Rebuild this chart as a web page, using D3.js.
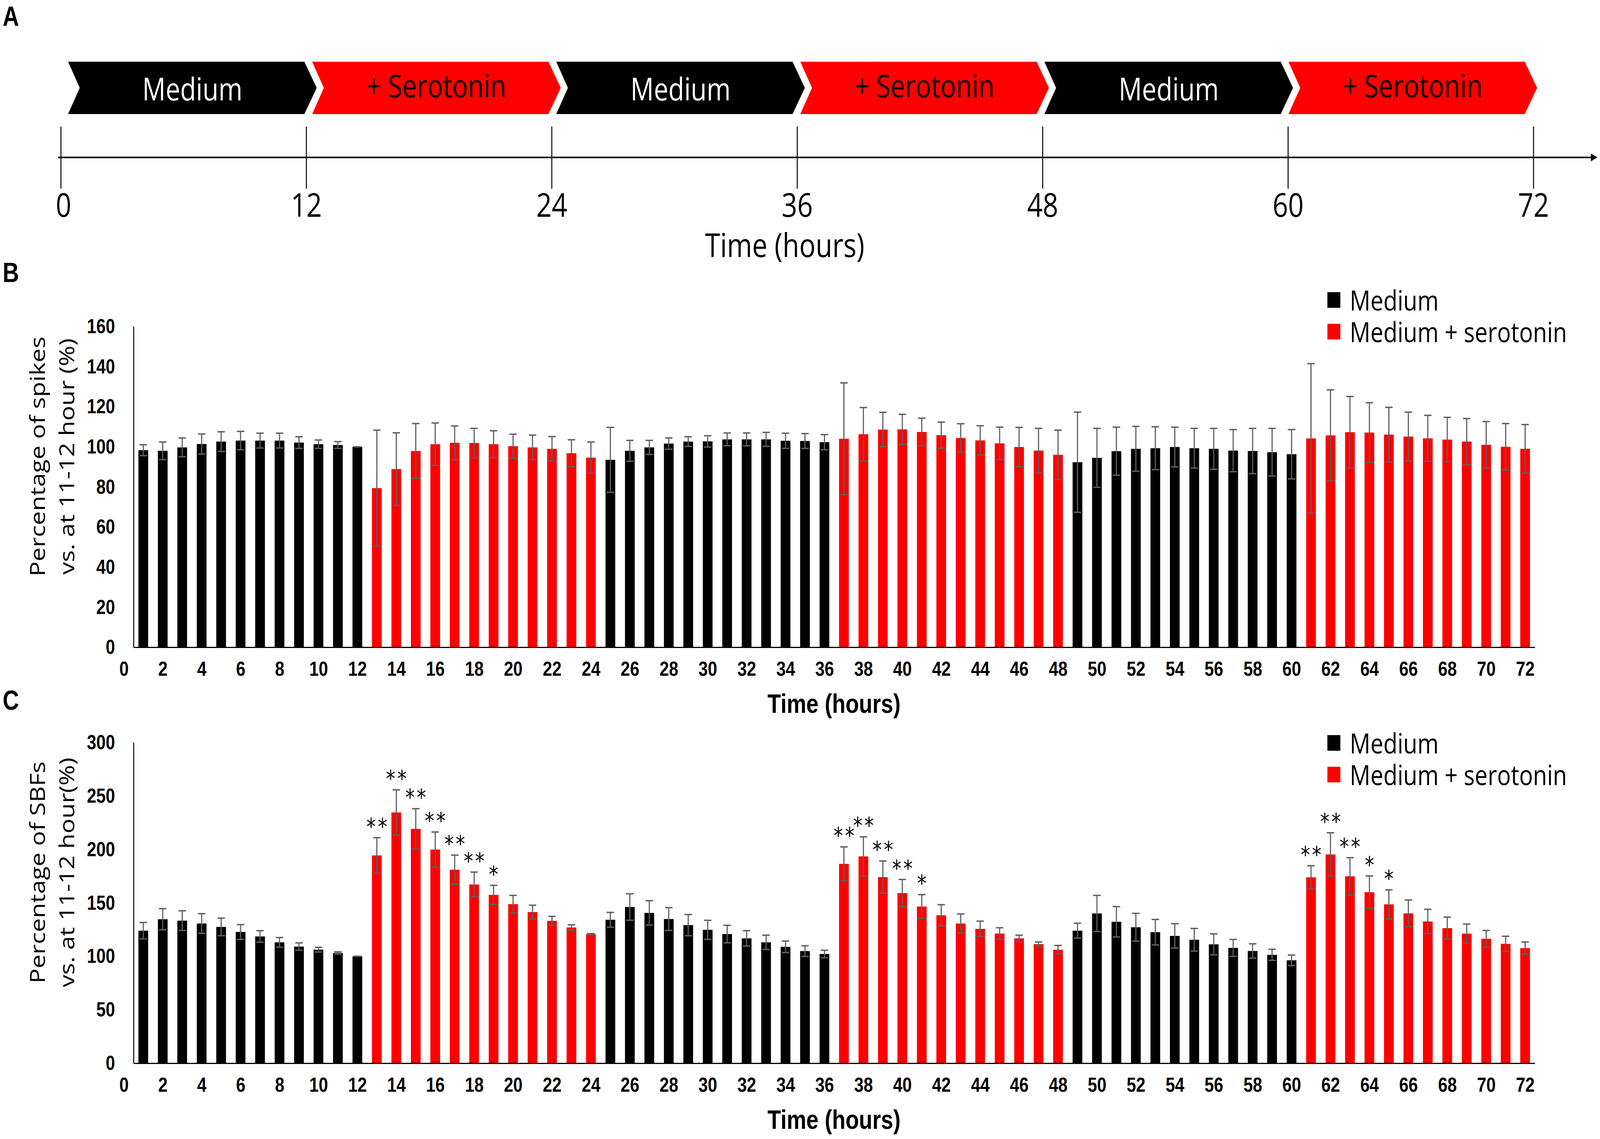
<!DOCTYPE html>
<html>
<head>
<meta charset="utf-8">
<script src="https://cdn.jsdelivr.net/npm/d3@7"></script>
<style>
  html, body { margin: 0; padding: 0; width: 100%; height: 100%; overflow: hidden; background: #fff; }
  svg { display: block; width: 100vw; height: 100vh; }
</style>
</head>
<body>
<svg id="fig" viewBox="0 0 4936 2916" preserveAspectRatio="none"></svg>
<script>
// ---- data ----
const hours = d3.range(1, 73);   // hour bins 1..72
const xTickLabels = d3.range(0, 73, 2);
const timeTicks = [0, 12, 24, 36, 48, 60, 72];

const phaseNames = ["Medium", "+ Serotonin", "Medium", "+ Serotonin", "Medium", "+ Serotonin"];
const phaseStart = [0, 12, 24, 36, 48, 60];
const phaseEnd = [12, 24, 36, 48, 60, 72];

// panel B: spikes, % of 11-12 h
const spikes = [98.3, 98.0, 99.7, 101.4, 102.6, 103.1, 103.1, 103.1, 102.1, 101.3, 100.9, 100.0,
  79.4, 88.9, 97.9, 101.3, 102.0, 101.9, 101.3, 100.3, 99.7, 99.0, 96.8, 94.6,
  93.5, 98.0, 99.7, 101.6, 102.6, 102.7, 103.7, 103.7, 103.7, 103.0, 102.9, 102.3,
  104.0, 106.3, 108.6, 108.7, 107.4, 105.8, 104.4, 103.2, 101.7, 99.9, 98.1, 96.0,
  92.3, 94.5, 97.8, 99.0, 99.3, 99.9, 99.3, 99.0, 98.1, 97.9, 97.3, 96.3,
  104.2, 105.7, 107.3, 107.1, 106.1, 105.1, 104.2, 103.6, 102.6, 101.0, 100.0, 99.0];
const spikesErr = [2.7, 4.4, 4.7, 5.0, 4.9, 4.6, 3.7, 3.7, 2.9, 2.1, 1.7, 0,
  28.9, 18.1, 13.7, 10.6, 8.4, 7.3, 6.7, 6.0, 6.1, 6.1, 6.7, 7.8,
  16.2, 5.2, 3.5, 2.8, 2.4, 2.8, 3.2, 3.2, 3.5, 3.8, 3.7, 3.8,
  27.9, 13.3, 8.6, 7.5, 6.9, 6.5, 7.1, 7.3, 8.1, 9.8, 11.1, 12.3,
  25.0, 14.7, 12.0, 11.2, 10.7, 9.9, 9.9, 10.2, 10.5, 11.3, 11.9, 12.3,
  37.3, 22.7, 17.8, 14.9, 13.6, 12.2, 11.5, 11.1, 11.5, 11.6, 11.6, 12.1];

// panel C: SBFs, % of 11-12 h
const sbf = [124.0, 134.7, 133.4, 130.7, 127.5, 122.8, 118.6, 113.1, 109.1, 106.2, 103.2, 100.0,
  194.4, 234.6, 219.2, 199.9, 181.0, 167.2, 157.5, 148.8, 141.4, 133.2, 127.0, 120.8,
  134.2, 146.1, 140.6, 134.9, 129.2, 124.8, 120.8, 116.8, 113.1, 108.9, 104.9, 102.2,
  186.5, 193.5, 174.1, 159.2, 146.6, 138.4, 130.7, 125.7, 121.3, 116.8, 111.4, 106.2,
  124.0, 140.1, 132.3, 127.2, 122.6, 119.1, 115.5, 111.2, 107.9, 105.0, 101.4, 96.3,
  173.9, 195.3, 174.9, 160.0, 148.6, 140.2, 132.6, 126.4, 121.2, 116.4, 111.7, 107.7];
const sbfErr = [7.7, 9.9, 9.2, 9.2, 8.2, 6.9, 5.4, 4.5, 3.5, 2.2, 1.0, 0,
  16.6, 21.1, 18.9, 16.4, 13.7, 11.6, 8.9, 8.2, 6.4, 4.2, 2.5, 0.5,
  6.9, 12.4, 11.4, 10.7, 9.9, 8.9, 8.2, 7.2, 6.7, 5.4, 5.0, 3.5,
  15.9, 18.3, 15.1, 12.7, 11.1, 9.9, 8.9, 7.2, 5.4, 3.0, 2.0, 4.0,
  7.0, 16.9, 14.2, 13.0, 11.9, 11.4, 10.6, 9.8, 7.9, 6.7, 5.2, 4.9,
  10.8, 20.3, 17.4, 15.2, 13.6, 12.5, 11.4, 10.3, 9.0, 7.8, 7.1, 5.7];

const sigHours = [13, 14, 15, 16, 17, 18, 19, 37, 38, 39, 40, 41, 61, 62, 63, 64, 65];
const sigMarks = ["**", "**", "**", "**", "**", "**", "*", "**", "**", "**", "**", "*", "**", "**", "**", "*", "*"];

const legendNames = ["Medium", "Medium + serotonin"];

// ---- style ----
const RED = "#ff0000", BLACK = "#000000", ERR = "#5f5f5f";
const LIGHT = "'Open Sans', 'DejaVu Sans', sans-serif";
const BOLD = "'Liberation Sans', Arial, sans-serif";

const svg = d3.select("#fig");

function phaseOf(h) {
  return phaseStart.findIndex((s, i) => h > s && h <= phaseEnd[i]);
}
function colorOf(h) { return phaseOf(h) % 2 === 0 ? BLACK : RED; }

// panel letters
[["A", 66], ["B", 722], ["C", 1817]].forEach(([t, yy]) => {
  svg.append("text").attr("x", 8).attr("y", yy).text(t)
    .attr("font-family", BOLD).attr("font-weight", "bold").attr("font-size", 70);
});

// ---- panel A: timeline ----
function drawTimeline() {
  const g = svg.append("g");
  const xA = d3.scaleLinear().domain([0, 72]).range([188, 4731]);
  const xC = d3.scaleLinear().domain([0, 72]).range([210, 4728]);
  const top = 158, bot = 292, mid = 225;

  phaseNames.forEach((name, i) => {
    const l = xC(phaseStart[i]), r = xC(phaseEnd[i]) - 24;
    const serot = i % 2 === 1;
    g.append("path")
      .attr("d", `M${l},${top}L${r},${top}L${r + 38},${mid}L${r},${bot}L${l},${bot}L${l + 36},${mid}Z`)
      .attr("fill", serot ? RED : BLACK);
    g.append("text")
      .attr("x", (l + r + 38) / 2).attr("y", serot ? 249 : 257)
      .attr("text-anchor", "middle")
      .attr("font-family", LIGHT).attr("font-size", 80)
      .attr("fill", serot ? BLACK : "#fff")
      .text(name);
  });

  g.append("line").attr("x1", 179).attr("x2", 4912).attr("y1", 403).attr("y2", 403)
    .attr("stroke", "#000").attr("stroke-width", 4);
  g.append("path").attr("d", "M4928,403L4908,393L4908,413Z").attr("fill", "#000");

  g.selectAll("line.tick").data(timeTicks).join("line")
    .attr("class", "tick")
    .attr("x1", d => xA(d)).attr("x2", d => xA(d))
    .attr("y1", 324).attr("y2", 483)
    .attr("stroke", "#000").attr("stroke-width", 3);

  g.selectAll("text.tl").data(timeTicks).join("text")
    .attr("class", "tl")
    .attr("x", d => xA(d) + (d === 0 ? 8 : 0)).attr("y", 555)
    .attr("text-anchor", "middle")
    .attr("font-family", LIGHT).attr("font-size", 84)
    .text(d => d);

  g.append("text").attr("x", 2421).attr("y", 658).attr("text-anchor", "middle")
    .attr("font-family", LIGHT).attr("font-size", 84).text("Time (hours)");
}

// ---- panels B and C: bar charts ----
function drawBars(opt) {
  const g = svg.append("g");
  const x = d3.scaleLinear().domain([0.5, 72.5]).range([412, 4735]);
  const y = d3.scaleLinear().domain([0, opt.yMax]).range([opt.base, opt.top]);
  const vals = opt.values, errs = opt.errs;

  g.selectAll("rect.bar").data(hours).join("rect")
    .attr("class", "bar")
    .attr("x", h => x(h) - 15).attr("width", 30)
    .attr("y", (h, i) => y(vals[i]))
    .attr("height", (h, i) => y(0) - y(vals[i]))
    .attr("fill", colorOf);

  const eb = g.selectAll("g.err").data(hours).join("g").attr("class", "err")
    .attr("stroke", ERR).attr("stroke-width", 3.5);
  eb.append("line")
    .attr("x1", h => x(h)).attr("x2", h => x(h))
    .attr("y1", (h, i) => y(vals[i] - errs[i])).attr("y2", (h, i) => y(vals[i] + errs[i]));
  eb.append("line")
    .attr("x1", h => x(h) - 11.5).attr("x2", h => x(h) + 11.5)
    .attr("y1", (h, i) => y(vals[i] + errs[i])).attr("y2", (h, i) => y(vals[i] + errs[i]));
  eb.append("line")
    .attr("x1", h => x(h) - 11.5).attr("x2", h => x(h) + 11.5)
    .attr("y1", (h, i) => y(vals[i] - errs[i])).attr("y2", (h, i) => y(vals[i] - errs[i]));

  if (opt.stars) {
    g.selectAll("text.star").data(sigHours).join("text")
      .attr("class", "star")
      .attr("x", h => x(h) + 3)
      .attr("y", h => y(vals[h - 1] + errs[h - 1]) - 8)
      .attr("text-anchor", "middle")
      .attr("font-family", "'DejaVu Sans', sans-serif").attr("font-size", 58)
      .attr("letter-spacing", 6)
      .text((h, i) => sigMarks[i]);
  }

  const xAxis = g.append("g")
    .attr("transform", `translate(0,${opt.base})`)
    .call(d3.axisBottom(x).tickValues(xTickLabels).tickSize(0).tickSizeOuter(0).tickPadding(36));
  const yAxis = g.append("g")
    .attr("transform", "translate(412,0)")
    .call(d3.axisLeft(y).ticks(opt.yMax / opt.yStep).tickSize(0).tickSizeOuter(0).tickPadding(57));

  [xAxis, yAxis].forEach(a => {
    a.attr("font-family", BOLD).attr("font-size", 52).attr("font-weight", "bold");
    a.select(".domain").attr("stroke", "#000").attr("stroke-width", 3);
    a.selectAll("text").attr("fill", "#000");
  });

  // axis titles
  g.append("text").attr("x", 2573).attr("y", opt.base + 168)
    .attr("text-anchor", "middle")
    .attr("font-family", BOLD).attr("font-weight", "bold").attr("font-size", 68)
    .text("Time (hours)");

  const cy = (opt.base + opt.top) / 2 - 78;
  opt.yTitle.forEach((line, i) => {
    g.append("text")
      .attr("transform", `translate(${138 + i * 91},${cy}) rotate(-90)`)
      .attr("text-anchor", "middle")
      .attr("font-family", LIGHT).attr("font-size", 64)
      .text(line);
  });

  // legend
  const lg = g.append("g").attr("transform", `translate(4095,${opt.legendTop})`);
  legendNames.forEach((name, i) => {
    lg.append("rect").attr("x", 0).attr("y", i * 81).attr("width", 40).attr("height", 40)
      .attr("fill", i === 0 ? BLACK : RED);
    lg.append("text").attr("x", 69).attr("y", i * 81 + 47)
      .attr("font-family", LIGHT).attr("font-size", 71)
      .text(name);
  });
}

drawTimeline();

drawBars({
  values: spikes, errs: spikesErr, yMax: 160, yStep: 20,
  base: 1657, top: 836, legendTop: 748, stars: false,
  yTitle: ["Percentage of spikes", "vs. at 11-12 hour (%)"]
});

drawBars({
  values: sbf, errs: sbfErr, yMax: 300, yStep: 50,
  base: 2722, top: 1901, legendTop: 1882, stars: true,
  yTitle: ["Percentage of SBFs", "vs. at 11-12 hour(%)"]
});
</script>
</body>
</html>
